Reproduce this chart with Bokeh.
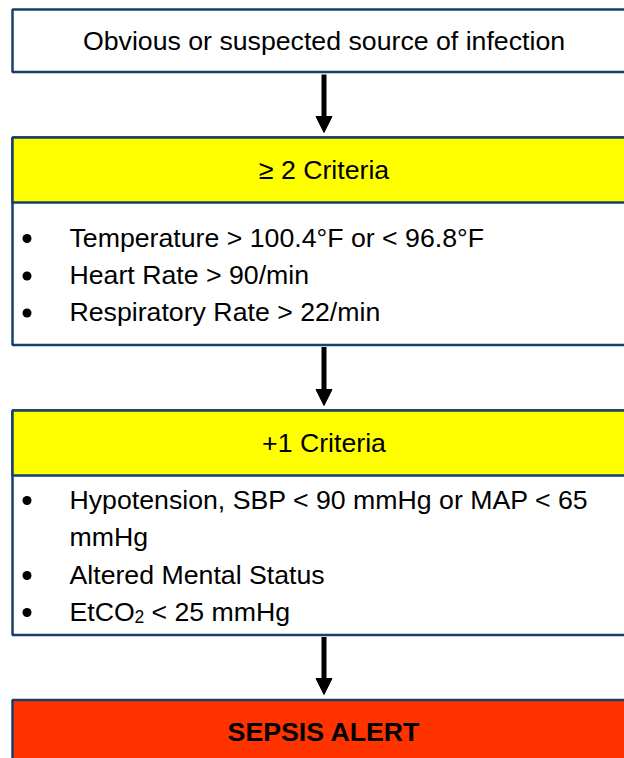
from bokeh.plotting import figure
from bokeh.models import Range1d, Arrow, NormalHead
from bokeh.core.properties import value
from bokeh.embed import file_html
from bokeh.resources import INLINE

# ---- content ----
box_titles = ["Obvious or suspected source of infection", "≥ 2 Criteria", "+1 Criteria", "SEPSIS ALERT"]
criteria_two = ["Temperature > 100.4°F or < 96.8°F", "Heart Rate > 90/min", "Respiratory Rate > 22/min"]
criteria_one = ["Hypotension, SBP < 90 mmHg or MAP < 65", "mmHg", "Altered Mental Status", "EtCO"]
criteria_one_bullet = [True, False, True, True]
etco2_sub = "2"
etco2_rest = "< 25 mmHg"

# ---- layout (page pixels) ----
NAVY = "#173F6B"
YELLOW = "#FFFF00"
RED = "#FF3300"
FONT = value("Liberation Sans")
FS = "26.7px"
LEFT, RIGHT = 12, 660
CX = 323.5
TEXT_X = 69
BULLET_X = 26.5
DY = -9  # text baseline correction

p = figure(width=624, height=758, x_range=Range1d(0, 624), y_range=Range1d(758, 0),
           output_backend="svg", toolbar_location=None, min_border=0,
           x_axis_location=None, y_axis_location=None)
p.grid.visible = False
p.outline_line_color = None
p.background_fill_color = "white"
p.border_fill_color = "white"

# boxes: outer white boxes, yellow headers, red alert
p.quad(left=[LEFT, LEFT, LEFT], right=[RIGHT] * 3, top=[9, 137, 410], bottom=[71.5, 344.5, 634.5],
       fill_color="white", line_color=NAVY, line_width=2.5)
p.quad(left=[LEFT, LEFT], right=[RIGHT] * 2, top=[137, 410], bottom=[202, 475],
       fill_color=YELLOW, line_color=NAVY, line_width=2.5)
p.quad(left=[LEFT], right=[RIGHT], top=[699.5], bottom=[800],
       fill_color=RED, line_color=NAVY, line_width=2.5)

# titles
title_y = [49 + DY, 178.5 + DY, 451.5 + DY, 740 + DY]
p.text(x=[CX] * 3, y=title_y[:3], text=box_titles[:3], text_font=FONT, text_font_size=FS,
       text_align="center", text_baseline="alphabetic", text_color="black")
p.text(x=[CX], y=[title_y[3]], text=[box_titles[3]], text_font=FONT, text_font_size=FS,
       text_font_style="bold", text_align="center", text_baseline="alphabetic", text_color="black")

# bullet lists
y2 = [246, 283.5, 320.5]
y1 = [508, 545.5, 583, 620]
p.text(x=[TEXT_X] * 3, y=[y + DY for y in y2], text=criteria_two, text_font=FONT, text_font_size=FS,
       text_baseline="alphabetic", text_color="black")
p.text(x=[TEXT_X] * 4, y=[y + DY for y in y1], text=criteria_one, text_font=FONT, text_font_size=FS,
       text_baseline="alphabetic", text_color="black")
p.text(x=[134], y=[y1[3] + 5 + DY], text=[etco2_sub], text_font=FONT, text_font_size="17.5px",
       text_baseline="alphabetic", text_color="black")
p.text(x=[151], y=[y1[3] + DY], text=[etco2_rest], text_font=FONT, text_font_size=FS,
       text_baseline="alphabetic", text_color="black")

bullet_y = [y - 8 for y in y2] + [y - 8 for y, b in zip(y1, criteria_one_bullet) if b]
p.scatter(x=[BULLET_X] * len(bullet_y), y=bullet_y, size=9, marker="circle",
          fill_color="black", line_color=None)

# arrows
arrow_start = [74, 346.5, 636.5]
arrow_end = [132, 405, 694]
for s, e in zip(arrow_start, arrow_end):
    p.add_layout(Arrow(x_start=CX, y_start=s, x_end=CX, y_end=e, line_width=5, line_color="black",
                       end=NormalHead(size=16, fill_color="black", line_color="black", line_width=1)))

open("out.html", "w").write(file_html(p, INLINE))
